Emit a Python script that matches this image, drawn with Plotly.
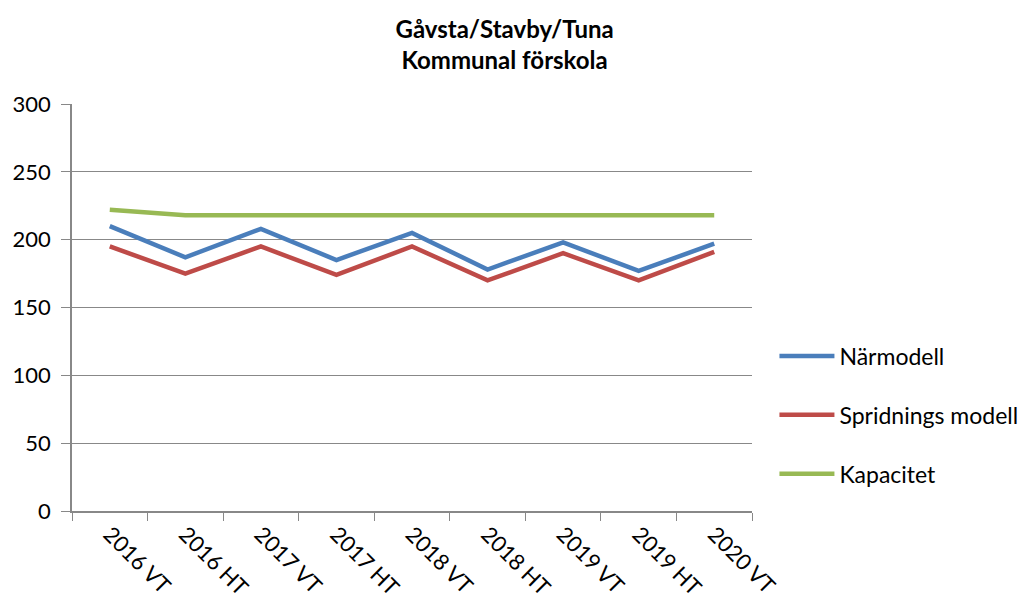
import plotly.graph_objects as go

categories = ["2016 VT", "2016 HT", "2017 VT", "2017 HT", "2018 VT",
              "2018 HT", "2019 VT", "2019 HT", "2020 VT"]
narmodell = [210, 187, 208, 185, 205, 178, 198, 177, 197]
spridning = [195, 175, 195, 174, 195, 170, 190, 170, 191]
kapacitet = [222, 218, 218, 218, 218, 218, 218, 218, 218]
y_ticks = [0, 50, 100, 150, 200, 250, 300]

FONT = "Lato, 'Open Sans', sans-serif"

fig = go.Figure()
series = [("Närmodell", narmodell, "#4A7EBB"),
          ("Spridnings modell", spridning, "#BE4B48"),
          ("Kapacitet", kapacitet, "#98B954")]
for i, (name, vals, col) in enumerate(series):
    fig.add_trace(go.Scatter(x=categories, y=vals, name=name, mode="lines",
                             line=dict(color=col, width=4.5),
                             legendgroup=f"g{i}"))

fig.update_layout(
    width=1024, height=599,
    paper_bgcolor="white", plot_bgcolor="white",
    margin=dict(l=64, r=280, t=96, b=96, autoexpand=False),
    font=dict(family=FONT, size=22, color="black"),
    title=dict(text="<b>Gåvsta/Stavby/Tuna<br>Kommunal förskola</b>",
               x=0.485, xanchor="center", y=0.950, yanchor="middle",
               font=dict(family=FONT, size=24, color="black")),
    legend=dict(x=1.033, xanchor="left", y=0.236, yanchor="middle",
                font=dict(family=FONT, size=23, color="black"),
                itemwidth=55,
                tracegroupgap=26, bgcolor="rgba(0,0,0,0)"),
    showlegend=True,
)
fig.update_xaxes(type="category", range=[-0.5, 8.5], automargin=False,
                 showline=True, linecolor="#888888", linewidth=1.5,
                 ticks="outside", tickson="boundaries", ticklen=8, tickcolor="#888888",
                 tickangle=45, showgrid=False, zeroline=False,
                 tickfont=dict(family=FONT, size=22, color="black"))
fig.update_yaxes(range=[0, 300], tickvals=y_ticks, automargin=False,
                 showline=True, linecolor="#888888",
                 linewidth=1.5, ticks="outside", ticklen=9, tickcolor="#888888",
                 ticklabelstandoff=6,
                 showgrid=True, gridcolor="#888888", gridwidth=1.2, zeroline=False,
                 tickfont=dict(family=FONT, size=22, color="black"))

fig.write_html("out.html")
